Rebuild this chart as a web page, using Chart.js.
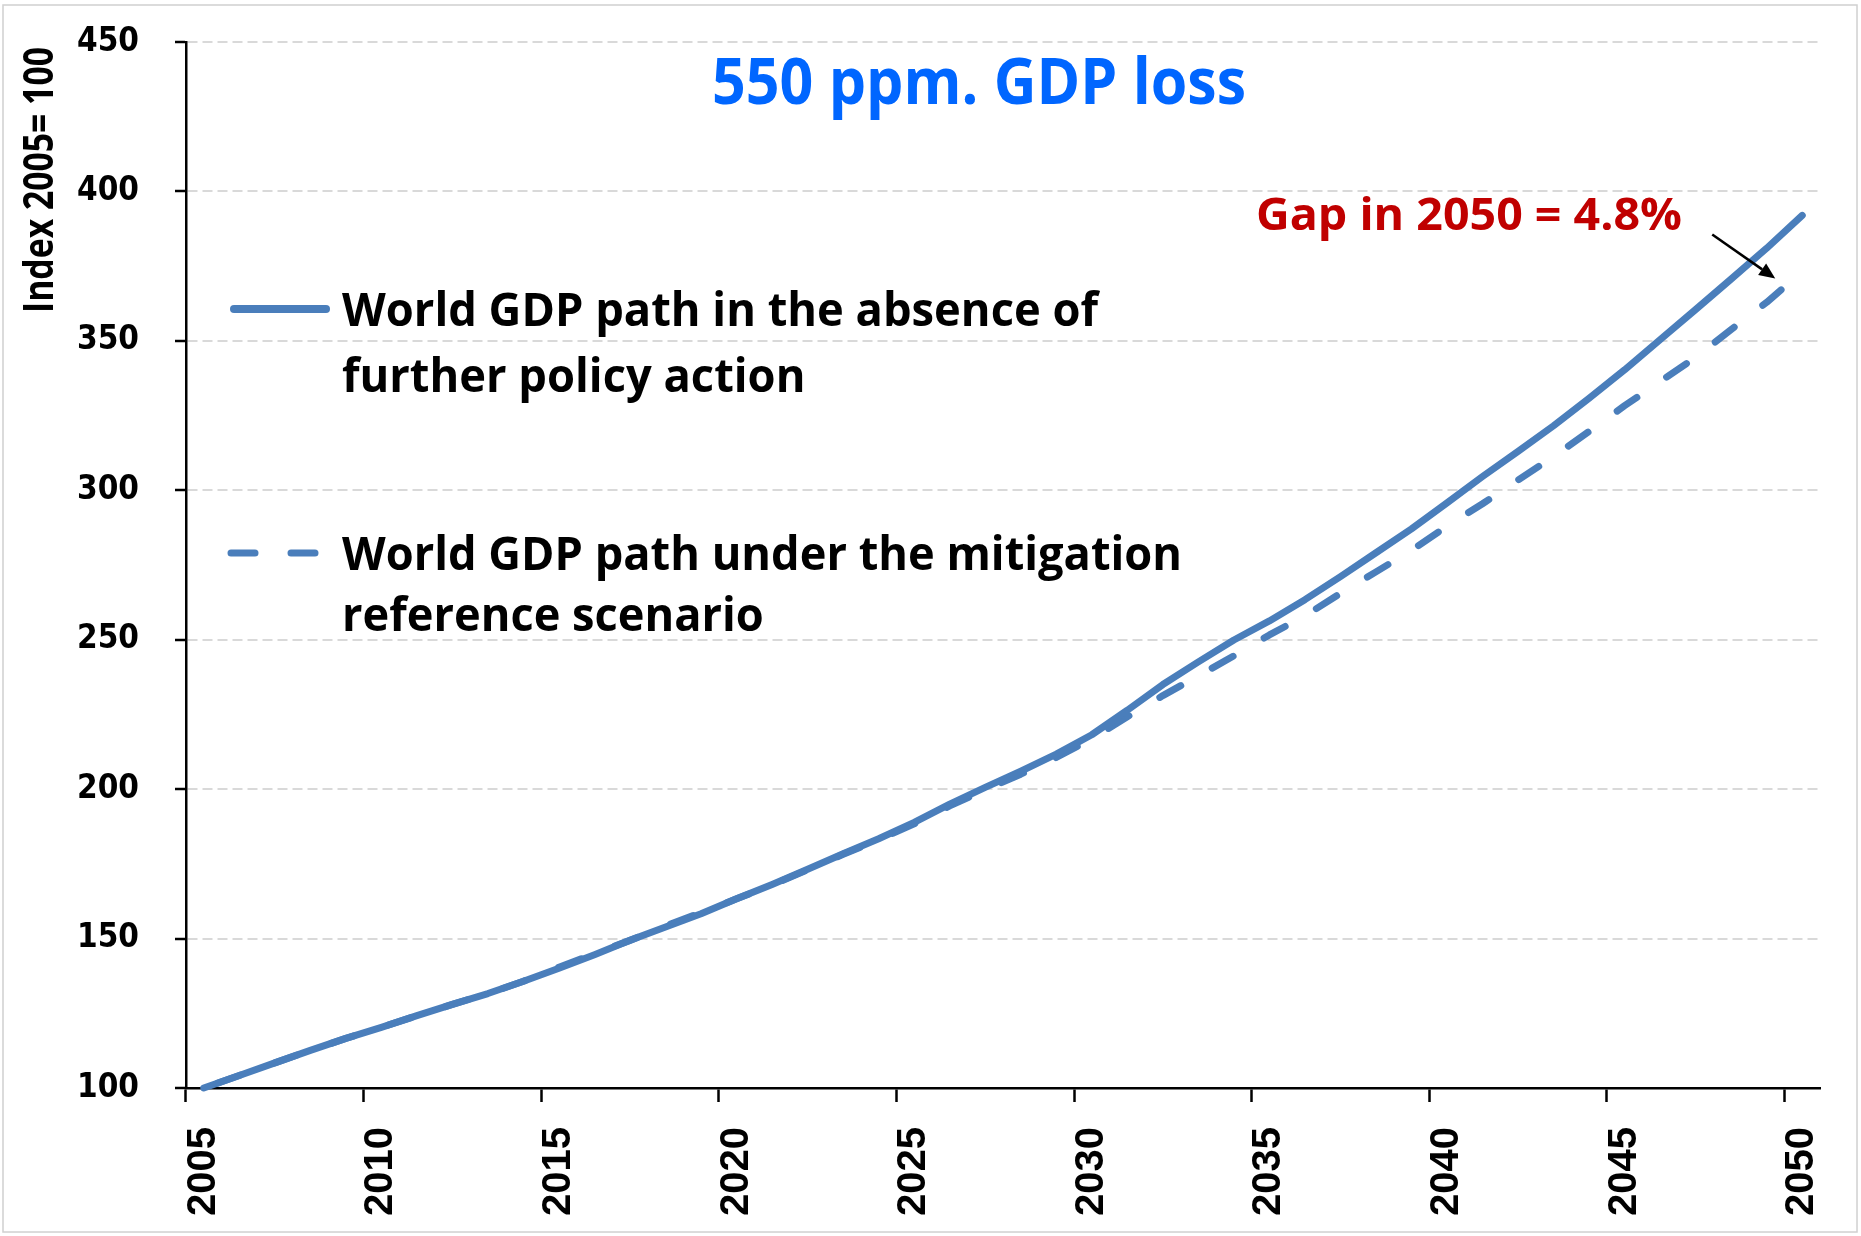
<!DOCTYPE html>
<html>
<head>
<meta charset="utf-8">
<title>550 ppm. GDP loss</title>
<script src="https://cdn.jsdelivr.net/npm/chart.js@4/dist/chart.umd.min.js"></script>
<style>
  html, body { margin: 0; padding: 0; background: #ffffff; }
  #wrap { width: 1861px; height: 1236px; }
</style>
</head>
<body>
<div id="wrap"><canvas id="gdp" width="1861" height="1236"></canvas></div>
<script>
// ---- data ----
const years = [
  '2005','2006','2007','2008','2009','2010','2011','2012','2013','2014',
  '2015','2016','2017','2018','2019','2020','2021','2022','2023','2024',
  '2025','2026','2027','2028','2029','2030','2031','2032','2033','2034',
  '2035','2036','2037','2038','2039','2040','2041','2042','2043','2044',
  '2045','2046','2047','2048','2049','2050'
];

// World GDP index, no further policy action (2005 = 100)
const baselineGDP = [
  100.0, 104.2, 108.4, 112.6, 116.6, 120.3, 124.2, 128.0, 131.6, 135.7,
  140.1, 144.6, 149.4, 153.9, 158.3, 163.3, 168.1, 173.2, 178.4, 183.4,
  188.9, 195.0, 200.6, 206.0, 211.7, 218.2, 226.4, 235.0, 242.6, 249.9,
  256.3, 263.4, 271.1, 279.1, 287.1, 295.8, 304.6, 313.0, 321.6, 330.8,
  340.3, 350.4, 360.5, 370.7, 381.0, 392.0
];

// World GDP index under the mitigation reference scenario (2050 is 4.8% below baseline)
const mitigationGDP = [
  100.0, 104.2, 108.4, 112.6, 116.6, 120.3, 124.2, 128.0, 131.6, 135.7,
  140.4, 144.9, 149.4, 154.2, 158.7, 163.3, 168.0, 173.0, 178.2, 183.1,
  188.4, 194.4, 199.8, 205.0, 210.6, 216.9, 224.2, 231.3, 237.9, 244.6,
  251.6, 258.0, 265.5, 272.7, 279.9, 288.0, 295.5, 303.4, 311.3, 319.7,
  328.3, 336.4, 344.5, 353.8, 362.9, 373.2
];

const yTickValues = [100, 150, 200, 250, 300, 350, 400, 450];
const labelEvery = 5;

const chartTitle = '550 ppm. GDP loss';
const yAxisTitle = 'Index 2005= 100';
const baselineLabel = ['World GDP path in the absence of', 'further policy action'];
const mitigationLabel = ['World GDP path under the mitigation', 'reference scenario'];
const gapNote = 'Gap in 2050 = 4.8%';

// ---- styling ----
const LINE_BLUE = '#4A7EBB';
const TEXT_FONT = '"Open Sans", "Noto Sans", sans-serif';

// draw text squeezed/stretched horizontally to a given width
function fitText(ctx, text, x, y, font, width, color, align, fixedScale) {
  ctx.save();
  ctx.font = font;
  const w = ctx.measureText(text).width;
  const sx = fixedScale || (width / w);
  ctx.translate(x, y);
  ctx.scale(sx, 1);
  ctx.fillStyle = color;
  ctx.textAlign = 'left';
  ctx.textBaseline = 'alphabetic';
  ctx.fillText(text, align === 'right' ? -w : 0, 0);
  ctx.restore();
  return sx;
}

// phase the dashed series so that its pattern closes with a gap at the 2050 end
const dashPhase = {
  id: 'dashPhase',
  beforeDatasetDraw(chart, args) {
    const ds = chart.data.datasets[args.index];
    if (!ds.borderDash || !ds.borderDash.length) return;
    const pts = args.meta.data;
    let len = 0;
    for (let i = 1; i < pts.length; i++) {
      len += Math.hypot(pts[i].x - pts[i - 1].x, pts[i].y - pts[i - 1].y);
    }
    const period = ds.borderDash[0] + ds.borderDash[1];
    const endPhase = ds.borderDash[0] + 28;
    const off = (((endPhase - len) % period) + period) % period;
    args.meta.dataset.options = Object.assign({}, args.meta.dataset.options, { borderDashOffset: off });
  }
};

const pageDecor = {
  id: 'pageDecor',
  beforeDraw(chart) {
    const ctx = chart.ctx;
    ctx.save();
    ctx.fillStyle = '#ffffff';
    ctx.fillRect(0, 0, chart.width, chart.height);
    ctx.strokeStyle = '#D0D0D0';
    ctx.lineWidth = 1.5;
    ctx.strokeRect(3, 5, chart.width - 7, chart.height - 9);
    ctx.restore();
  },
  afterDraw(chart) {
    const ctx = chart.ctx;
    const xs = chart.scales.x, ys = chart.scales.y;

    // chart title
    fitText(ctx, chartTitle, 712, 104, 'bold 64px ' + TEXT_FONT, 534, '#0066FF');

    // vertical axis title
    ctx.save();
    ctx.translate(53, 313);
    ctx.rotate(-Math.PI / 2);
    fitText(ctx, yAxisTitle, 0, 0, 'bold 41px ' + TEXT_FONT, 266, '#000000');
    ctx.restore();

    // series key
    const sets = chart.data.datasets;
    ctx.save();
    ctx.lineCap = 'round';
    ctx.strokeStyle = sets[0].borderColor;
    ctx.lineWidth = 8;
    ctx.beginPath(); ctx.moveTo(234, 309); ctx.lineTo(326, 309); ctx.stroke();
    ctx.strokeStyle = sets[1].borderColor;
    ctx.lineWidth = 7;
    ctx.setLineDash(sets[1].borderDash);
    ctx.beginPath(); ctx.moveTo(231, 553); ctx.lineTo(323, 553); ctx.stroke();
    ctx.restore();

    const keyFont = 'bold 46px ' + TEXT_FONT;
    const s1 = fitText(ctx, baselineLabel[0], 342, 326, keyFont, 756, '#000000');
    fitText(ctx, baselineLabel[1], 342, 392, keyFont, 0, '#000000', 'left', s1);
    const s2 = fitText(ctx, mitigationLabel[0], 342, 570, keyFont, 840, '#000000');
    fitText(ctx, mitigationLabel[1], 342, 631, keyFont, 0, '#000000', 'left', s2);

    // gap note with arrow towards the 2050 mitigation point
    fitText(ctx, gapNote, 1682, 230, 'bold 45px ' + TEXT_FONT, 426, '#C00000', 'right');
    const last = years.length - 1;
    const tipX = xs.getPixelForValue(last) - 27;
    const tipY = ys.getPixelForValue(mitigationGDP[last]) + 7;
    const tailX = tipX - 63, tailY = tipY - 44;
    const ang = Math.atan2(tipY - tailY, tipX - tailX);
    const head = 16, half = 7;
    ctx.save();
    ctx.strokeStyle = '#000000';
    ctx.fillStyle = '#000000';
    ctx.lineWidth = 2.5;
    ctx.beginPath();
    ctx.moveTo(tailX, tailY);
    ctx.lineTo(tipX - Math.cos(ang) * head, tipY - Math.sin(ang) * head);
    ctx.stroke();
    ctx.beginPath();
    ctx.moveTo(tipX, tipY);
    ctx.lineTo(tipX - Math.cos(ang) * head + Math.sin(ang) * half, tipY - Math.sin(ang) * head - Math.cos(ang) * half);
    ctx.lineTo(tipX - Math.cos(ang) * head - Math.sin(ang) * half, tipY - Math.sin(ang) * head + Math.cos(ang) * half);
    ctx.closePath();
    ctx.fill();
    ctx.restore();
  }
};

new Chart(document.getElementById('gdp'), {
  type: 'line',
  data: {
    labels: years,
    datasets: [
      {
        label: baselineLabel.join(' '),
        data: baselineGDP,
        borderColor: LINE_BLUE,
        borderWidth: 7,
        borderCapStyle: 'round',
        borderJoinStyle: 'round',
        pointRadius: 0,
        tension: 0,
        fill: false,
        clip: 12
      },
      {
        label: mitigationLabel.join(' '),
        data: mitigationGDP,
        borderColor: LINE_BLUE,
        borderWidth: 7,
        borderDash: [24, 36],
        borderCapStyle: 'round',
        borderJoinStyle: 'round',
        pointRadius: 0,
        tension: 0,
        fill: false,
        clip: 12
      }
    ]
  },
  options: {
    responsive: false,
    animation: false,
    devicePixelRatio: 1,
    layout: { padding: { top: 42, right: 41, left: 0, bottom: 0 } },
    plugins: {
      legend: { display: false },
      title: { display: false },
      tooltip: { enabled: false }
    },
    scales: {
      x: {
        type: 'category',
        offset: true,
        afterFit(scale) {
          scale.height = 148;
          scale.paddingLeft = 0;
          scale.paddingRight = 0;
        },
        grid: {
          offset: true,
          drawOnChartArea: false,
          drawTicks: true,
          tickLength: 14,
          tickWidth: 2.5,
          color: '#000000',
          tickColor: (c) => (c.index % labelEvery === 0 ? '#000000' : 'rgba(0,0,0,0)')
        },
        border: { display: true, color: '#000000', width: 2.5 },
        ticks: {
          autoSkip: false,
          minRotation: 90,
          maxRotation: 90,
          padding: 25,
          color: '#000000',
          font: { family: '"Liberation Sans", Arial, sans-serif', weight: 'bold', size: 40 },
          callback: function (value, index) {
            return index % labelEvery === 0 ? this.getLabelForValue(value) : '';
          }
        }
      },
      y: {
        min: yTickValues[0],
        max: yTickValues[yTickValues.length - 1],
        afterFit(scale) {
          scale.width = 186;
          scale.paddingTop = 0;
          scale.paddingBottom = 0;
        },
        afterBuildTicks(scale) { scale.ticks = yTickValues.map(v => ({ value: v })); },
        grid: {
          color: (c) => (c.tick && c.tick.value === yTickValues[0] ? 'rgba(0,0,0,0)' : '#D9D9D9'),
          lineWidth: 2,
          drawTicks: true,
          tickLength: 11,
          tickWidth: 2.5,
          tickColor: '#000000'
        },
        border: { display: true, color: '#000000', width: 2.5, dash: [10, 5] },
        ticks: {
          padding: 36,
          color: '#000000',
          font: { family: '"DejaVu Sans Condensed", "DejaVu Sans", sans-serif', weight: 'bold', size: 33 }
        }
      }
    }
  },
  plugins: [dashPhase, pageDecor]
});
</script>
</body>
</html>
